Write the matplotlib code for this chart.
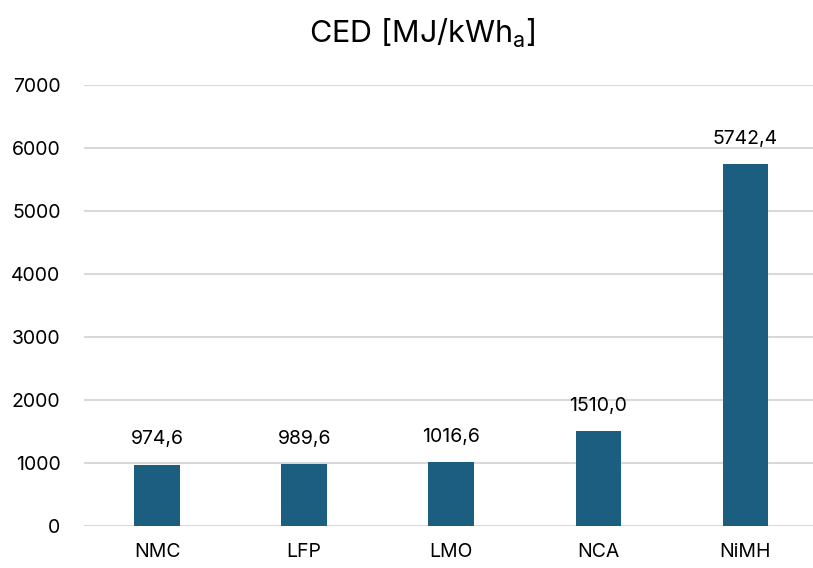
import matplotlib
matplotlib.use("Agg")
import matplotlib.pyplot as plt
from matplotlib import font_manager

categories = ["NMC", "LFP", "LMO", "NCA", "NiMH"]
values = [974.6, 989.6, 1016.6, 1510.0, 5742.4]
value_labels = ["974,6", "989,6", "1016,6", "1510,0", "5742,4"]
yticks = [0, 1000, 2000, 3000, 4000, 5000, 6000, 7000]

plt.rcParams['font.family'] = ['Inter', 'DejaVu Sans']

names = {f.name for f in font_manager.fontManager.ttflist}
title_font = 'Liberation Sans Narrow' if 'Liberation Sans Narrow' in names else 'Inter'
plt.rcParams['mathtext.fontset'] = 'custom'
plt.rcParams['mathtext.rm'] = title_font

W, H = 813, 568
fig = plt.figure(figsize=(W/100, H/100), dpi=100)
left, right = 83.5, 819
top, bottom = 85, 526
ax = fig.add_axes([left/W, (H-bottom)/H, (right-left)/W, (bottom-top)/H])

color = '#1B5E80'
x = list(range(len(categories)))
ax.bar(x, values, width=0.31, color=color, zorder=3)
for xi, v, lab in zip(x, values, value_labels):
    ax.annotate(lab, (xi, v), xytext=(0, 14.5), textcoords='offset points',
                ha='center', va='baseline', fontsize=14, color='#000000')

ax.set_xlim(-0.5, len(categories) - 0.5)
ax.set_ylim(0, 7000)
ax.set_yticks(yticks)
ax.set_yticklabels([str(t) for t in yticks])
ax.set_xticks(x)
ax.set_xticklabels(categories)
ax.yaxis.grid(True, color='#d9d9d9', linewidth=1.5, zorder=0)
ax.set_axisbelow(True)
for s in ax.spines.values():
    s.set_visible(False)
ax.tick_params(axis='both', length=0, labelsize=14, colors='#000000')
ax.tick_params(axis='y', pad=16.5)
ax.tick_params(axis='x', pad=12.5)

fig.text(422/W, 1 - 33/H, r'CED [MJ/kWh$_\mathrm{a}$]', ha='center', va='center',
         fontsize=22, family=[title_font, 'DejaVu Sans'])

fig.savefig('out.png', dpi=100)
